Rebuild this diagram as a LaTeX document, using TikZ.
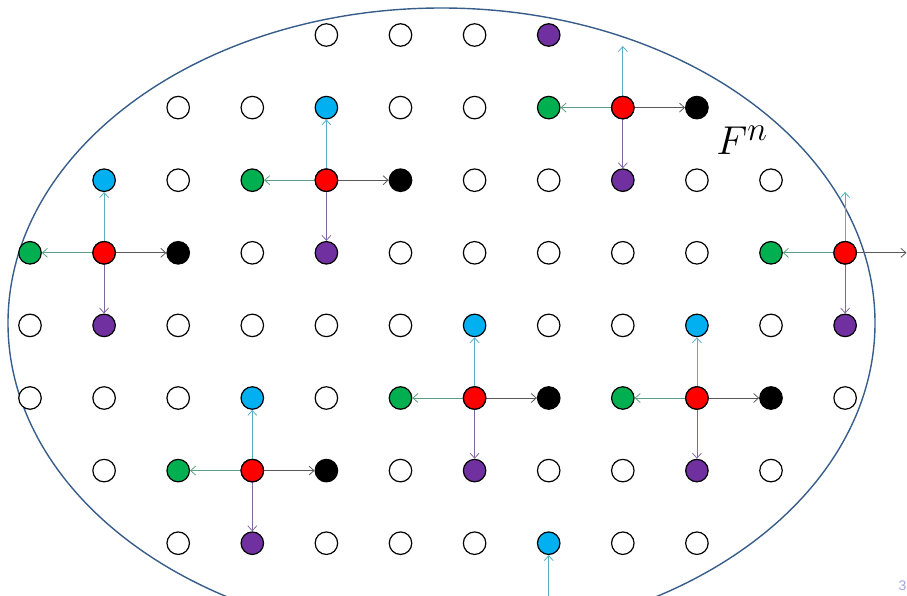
\documentclass[tikz,border=0pt]{standalone}
\usepackage{fontspec}
\usetikzlibrary{arrows.meta}
\newfontfamily\pagenumfont{Liberation Sans}

\definecolor{ovalblue}{HTML}{385D8A}
\definecolor{cRed}{HTML}{FF0000}
\definecolor{cGreen}{HTML}{00B050}
\definecolor{cBlue}{HTML}{00B0F0}
\definecolor{cPurple}{HTML}{7030A0}
\definecolor{cBlack}{HTML}{000000}
\definecolor{cWhite}{HTML}{FFFFFF}
\definecolor{arrLeft}{HTML}{5B9F85}
\definecolor{arrUp}{HTML}{5AAFC4}
\definecolor{arrDown}{HTML}{8367A3}
\definecolor{arrRight}{HTML}{595959}
\definecolor{pagecol}{HTML}{A3A3E3}

\begin{document}
\begin{tikzpicture}[x=1pt,y=-1pt,
  dot/.style={circle,draw=black,line width=1.2pt,minimum size=22.5pt,inner sep=0pt},
  nbarrow/.style={line width=0.8pt,-{Straight Barb[length=5pt,width=9pt]}},
  toleft/.style={nbarrow,arrLeft},
  toup/.style={nbarrow,arrUp},
  todown/.style={nbarrow,arrDown},
  toright/.style={nbarrow,arrRight},
  oval/.style={draw=ovalblue,line width=1.4pt}]
  \useasboundingbox (0,0) rectangle (907,596);
  \clip (0,0) rectangle (907,596);

  % the set F^n
  \draw[oval] (441.5,323) ellipse [x radius=433.5, y radius=315];

  % lattice points: column / row / fill
  \foreach \c/\r/\f in {
    4/0/cWhite,5/0/cWhite,6/0/cWhite,7/0/cPurple,
    2/1/cWhite,3/1/cWhite,4/1/cBlue,5/1/cWhite,6/1/cWhite,7/1/cGreen,8/1/cRed,9/1/cBlack,
    1/2/cBlue,2/2/cWhite,3/2/cGreen,4/2/cRed,5/2/cBlack,6/2/cWhite,7/2/cWhite,8/2/cPurple,9/2/cWhite,10/2/cWhite,
    0/3/cGreen,1/3/cRed,2/3/cBlack,3/3/cWhite,4/3/cPurple,5/3/cWhite,6/3/cWhite,7/3/cWhite,8/3/cWhite,9/3/cWhite,10/3/cGreen,11/3/cRed,
    0/4/cWhite,1/4/cPurple,2/4/cWhite,3/4/cWhite,4/4/cWhite,5/4/cWhite,6/4/cBlue,7/4/cWhite,8/4/cWhite,9/4/cBlue,10/4/cWhite,11/4/cPurple,
    0/5/cWhite,1/5/cWhite,2/5/cWhite,3/5/cBlue,4/5/cWhite,5/5/cGreen,6/5/cRed,7/5/cBlack,8/5/cGreen,9/5/cRed,10/5/cBlack,11/5/cWhite,
    1/6/cWhite,2/6/cGreen,3/6/cRed,4/6/cBlack,5/6/cWhite,6/6/cPurple,7/6/cWhite,8/6/cWhite,9/6/cPurple,10/6/cWhite,
    2/7/cWhite,3/7/cPurple,4/7/cWhite,5/7/cWhite,6/7/cWhite,7/7/cBlue,8/7/cWhite,9/7/cWhite}
    \node[dot,fill=\f] (n-\c-\r) at ({30+74.1*\c},{35+72.6*\r}) {};

  % neighbour arrows of the red points inside the grid
  \foreach \c/\r in {4/2,1/3,6/5,9/5,3/6}{
    \pgfmathtruncatemacro{\cl}{\c-1}
    \pgfmathtruncatemacro{\cr}{\c+1}
    \pgfmathtruncatemacro{\ru}{\r-1}
    \pgfmathtruncatemacro{\rd}{\r+1}
    \draw[toleft]  (n-\c-\r) -- (n-\cl-\r);
    \draw[toright] (n-\c-\r) -- (n-\cr-\r);
    \draw[toup]    (n-\c-\r) -- (n-\c-\ru);
    \draw[todown]  (n-\c-\r) -- (n-\c-\rd);
  }

  % red point near the top
  \coordinate (topTip) at (n-8-1 |- 0,46);
  \draw[toleft]  (n-8-1) -- (n-7-1);
  \draw[toright] (n-8-1) -- (n-9-1);
  \draw[toup]    (n-8-1) -- (topTip);
  \draw[todown]  (n-8-1) -- (n-8-2);

  % red point on the right border
  \coordinate (rightTip) at (906.5,0 |- n-11-3);
  \coordinate (rightUpTip) at (n-11-3 |- 0,192);
  \draw[toleft]  (n-11-3) -- (n-10-3);
  \draw[toright] (n-11-3) -- (rightTip);
  \draw[toup]    (n-11-3) -- (rightUpTip);
  \draw[todown]  (n-11-3) -- (n-11-4);

  % arrow coming from below into the bottom blue point
  \coordinate (bottomTail) at (n-7-7 |- 0,600);
  \draw[toup] (bottomTail) -- (n-7-7);

  % redraw red points above their arrows
  \foreach \c/\r in {8/1,4/2,1/3,11/3,6/5,9/5,3/6}
    \node[dot,fill=cRed] at (n-\c-\r) {};

  % label and page number
  \node[anchor=base west,inner sep=0pt,font=\Huge,scale=1.62] (label) at (716,155) {$F^n$};
  \node[anchor=base east,inner sep=0pt,text=pagecol,font=\pagenumfont\fontsize{14}{14}\selectfont] (pagenum) at (906.5,590) {3};
\end{tikzpicture}
\end{document}
